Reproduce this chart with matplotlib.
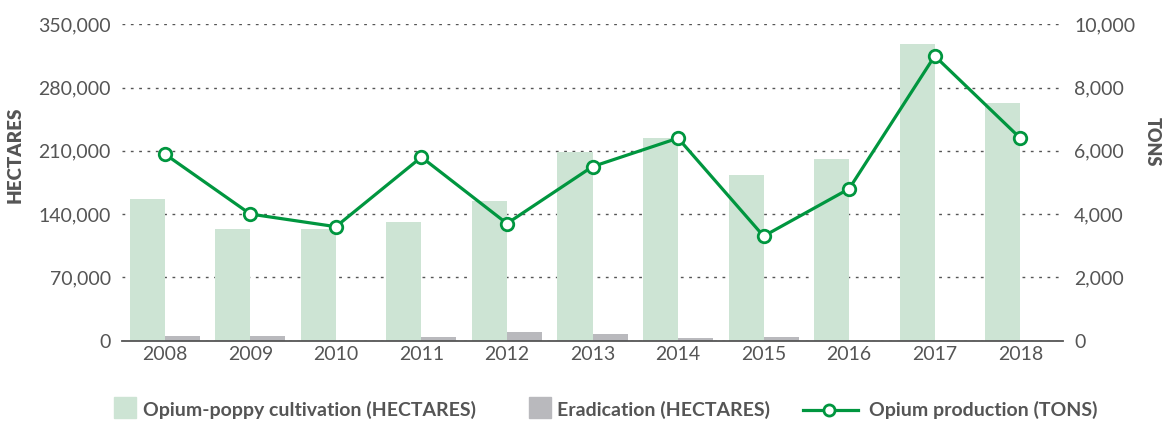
import matplotlib.pyplot as plt
from matplotlib.ticker import FuncFormatter
from matplotlib.lines import Line2D
from matplotlib.patches import Rectangle

years = ['2008', '2009', '2010', '2011', '2012', '2013', '2014', '2015', '2016', '2017', '2018']
cultivation = [157000, 123000, 123000, 131000, 154000, 209000, 224000, 183000, 201000, 328000, 263000]
eradication = [5500, 5400, 0, 3800, 9700, 7300, 2700, 3800, 0, 0, 0]
production = [5900, 4000, 3600, 5800, 3700, 5500, 6400, 3300, 4800, 9000, 6400]

plt.rcParams['font.family'] = ['Lato', 'DejaVu Sans']

green = '#00963f'
light_green = '#cde4d4'
gray = '#b9b9bd'
text_col = '#555555'

W, H = 1166, 423
fig = plt.figure(figsize=(W / 100, H / 100), dpi=100)
ax = fig.add_axes([0.1046, 0.195, 0.8071, 0.7475])
ax2 = ax.twinx()

x = list(range(len(years)))
w = 0.41
ax.bar([i - w / 2 for i in x], cultivation, width=w, color=light_green, zorder=2)
ax.bar([i + w / 2 for i in x], eradication, width=w, color=gray, zorder=2)

ax2.plot(x, production, color=green, lw=2.3, marker='o', ms=9, mfc='white',
         mec=green, mew=2, zorder=3)

ax.set_xlim(-0.5, 10.5)
ax.set_ylim(0, 350000)
ax.set_yticks(range(0, 350001, 70000))
ax2.set_ylim(0, 10000)
ax2.set_yticks(range(0, 10001, 2000))
fmt = FuncFormatter(lambda v, p: f'{int(v):,}')
ax.yaxis.set_major_formatter(fmt)
ax2.yaxis.set_major_formatter(fmt)

ax.set_xticks(x)
ax.set_xticklabels(years)
ax.yaxis.grid(True, linestyle=(0, (2, 4)), color='#555555', lw=1)
ax.set_axisbelow(True)

for a in (ax, ax2):
    for s in ['top', 'left', 'right', 'bottom']:
        a.spines[s].set_visible(False)
    a.tick_params(length=0, labelsize=14, colors=text_col, pad=8)
ax.spines['bottom'].set_visible(True)
ax.spines['bottom'].set_color('#555555')
ax.spines['bottom'].set_linewidth(1.3)
ax.tick_params(axis='x', pad=4)

# axis titles
fig.text(15 / W, 1 - 155 / H, 'HECTARES', rotation=90, ha='center', va='center',
         fontsize=13.5, fontweight='heavy', color=text_col)
fig.text(1152 / W, 1 - 142 / H, 'TONS', rotation=270, ha='center', va='center',
         fontsize=13, fontweight='heavy', color=text_col)

# legend drawn by hand
ly = 1 - 410 / H
lprop = dict(fontsize=14, fontweight='bold', color=text_col, va='center', ha='left')
fig.add_artist(Rectangle((114 / W, 1 - 418 / H), 22 / W, 21 / H, color=light_green,
                         transform=fig.transFigure))
fig.text(143 / W, ly, 'Opium-poppy cultivation (HECTARES)', **lprop)
fig.add_artist(Rectangle((529 / W, 1 - 418 / H), 22 / W, 21 / H, color=gray,
                         transform=fig.transFigure))
fig.text(557 / W, ly, 'Eradication (HECTARES)', **lprop)
fig.add_artist(Line2D([803 / W, 858 / W], [ly, ly], color=green, lw=2.3,
                      transform=fig.transFigure))
fig.add_artist(Line2D([829 / W], [ly], color=green, marker='o', ms=8, mfc='white',
                      mew=2, transform=fig.transFigure))
fig.text(869 / W, ly, 'Opium production (TONS)', **lprop)

fig.savefig('out.png', dpi=100)
